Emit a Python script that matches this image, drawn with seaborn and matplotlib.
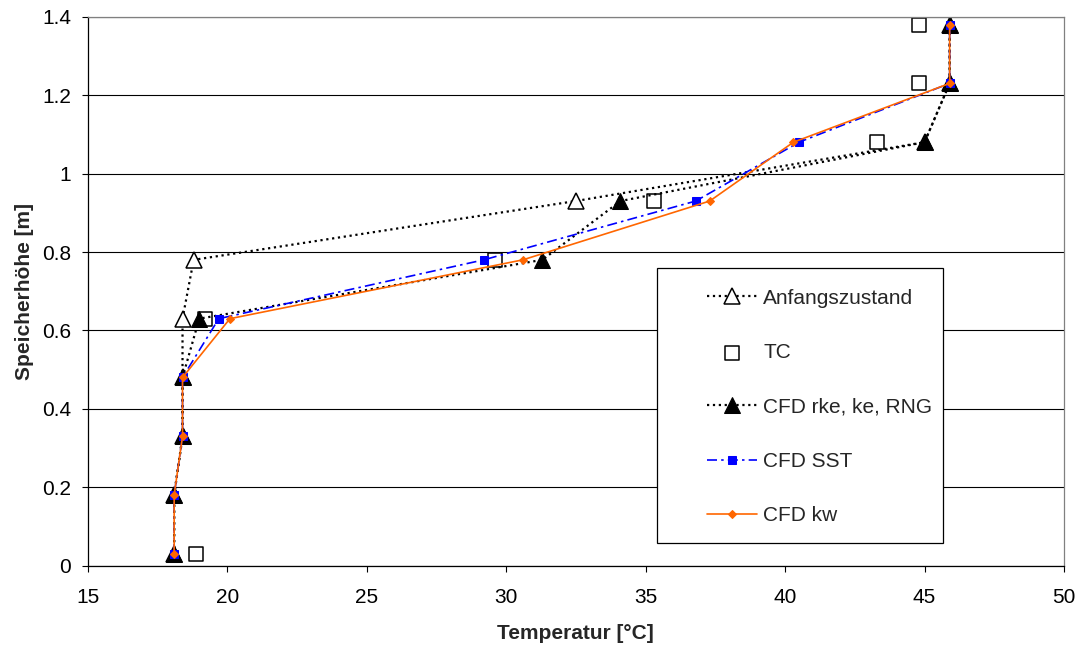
import matplotlib
matplotlib.use("Agg")
import matplotlib.pyplot as plt
from matplotlib.patches import Rectangle
from matplotlib.ticker import FuncFormatter, MultipleLocator
import seaborn as sns

# Speicherhöhe der Messstellen [m]
hoehe = [0.03, 0.18, 0.33, 0.48, 0.63, 0.78, 0.93, 1.08, 1.23, 1.38]
tc_hoehe = [0.03, 0.63, 0.78, 0.93, 1.08, 1.23, 1.38]

# Temperaturen [°C]
anfang = [18.1, 18.1, 18.4, 18.4, 18.4, 18.8, 32.5, 45.0, 45.9, 45.9]
tc = [18.9, 19.2, 29.6, 35.3, 43.3, 44.8, 44.8]
rke = [18.1, 18.1, 18.4, 18.4, 19.0, 31.3, 34.1, 45.0, 45.9, 45.9]
sst = [18.1, 18.1, 18.4, 18.4, 19.7, 29.2, 36.8, 40.5, 45.9, 45.9]
kw = [18.1, 18.1, 18.4, 18.4, 20.1, 30.6, 37.3, 40.3, 45.9, 45.9]

labels = ["Anfangszustand", "TC", "CFD rke, ke, RNG", "CFD SST", "CFD kw"]

FS = 15

sns.set_theme(style="white")
plt.rcParams["font.family"] = ["Liberation Sans", "DejaVu Sans"]

fig = plt.figure(figsize=(10.81, 6.45), dpi=100)
ax = fig.add_axes([0.0811, 0.1229, 0.9032, 0.8512])

sns.lineplot(x=anfang, y=hoehe, sort=False, estimator=None, ax=ax,
             label=labels[0], color="black", linestyle=":", linewidth=1.6,
             marker="^", markersize=11, markerfacecolor="white",
             markeredgecolor="black", markeredgewidth=1.1, zorder=2.0)
sns.scatterplot(x=tc, y=tc_hoehe, ax=ax, label=labels[1], marker="s",
                s=90, facecolor="white", edgecolor="black", linewidth=1.1,
                zorder=2.1)
sns.lineplot(x=rke, y=hoehe, sort=False, estimator=None, ax=ax,
             label=labels[2], color="black", linestyle=":", linewidth=1.6,
             marker="^", markersize=12, markerfacecolor="black",
             markeredgecolor="black", zorder=2.2)
sns.lineplot(x=sst, y=hoehe, sort=False, estimator=None, ax=ax,
             label=labels[3], color="#0000FF", linewidth=1.2,
             dashes=(6, 2.5, 1.5, 2.5), marker="s", markersize=6,
             markerfacecolor="#0000FF", markeredgecolor="#0000FF",
             zorder=2.3)
sns.lineplot(x=kw, y=hoehe, sort=False, estimator=None, ax=ax,
             label=labels[4], color="#FF6600", linewidth=1.2,
             marker="D", markersize=4.5, markerfacecolor="#FF6600",
             markeredgecolor="#FF6600", zorder=2.4)

ax.set_xlim(15, 50)
ax.set_ylim(0, 1.4)
ax.xaxis.set_major_locator(MultipleLocator(5))
ax.yaxis.set_major_locator(MultipleLocator(0.2))
ax.yaxis.set_major_formatter(FuncFormatter(lambda v, p: f"{v:g}"))

ax.grid(axis="y", color="black", linewidth=0.8)
ax.grid(axis="x", visible=False)
for side in ("left", "bottom"):
    ax.spines[side].set_color("black")
    ax.spines[side].set_linewidth(0.9)
for side in ("top", "right"):
    ax.spines[side].set_color("#808080")
    ax.spines[side].set_linewidth(0.9)

ax.tick_params(axis="both", which="major", direction="out", length=4.5,
               width=0.8, color="black", labelsize=FS, labelcolor="black",
               bottom=True, left=True)
ax.tick_params(axis="x", pad=11.5)
ax.tick_params(axis="y", pad=7.5)

ax.set_xlabel("Temperatur [°C]", fontsize=FS, fontweight="bold")
ax.set_ylabel("Speicherhöhe [m]", fontsize=FS, fontweight="bold")
ax.xaxis.set_label_coords(0.5, -0.106)
ax.yaxis.set_label_coords(-0.055, 0.5)

# Legendenrahmen
frame = Rectangle((0.5831, 0.0413), 0.8761 - 0.5831, 0.5423 - 0.0413,
                  transform=ax.transAxes, facecolor="white",
                  edgecolor="black", linewidth=0.9, zorder=5)
ax.add_patch(frame)

leg = ax.legend(loc="upper left", bbox_to_anchor=(0.6344, 0.5045),
                frameon=False, fontsize=FS, borderpad=0, borderaxespad=0,
                handlelength=2.4, handletextpad=0.29, labelspacing=1.70,
                numpoints=1, scatterpoints=1)
leg.set_zorder(6)

fig.savefig("out.png", dpi=100, facecolor="white")
